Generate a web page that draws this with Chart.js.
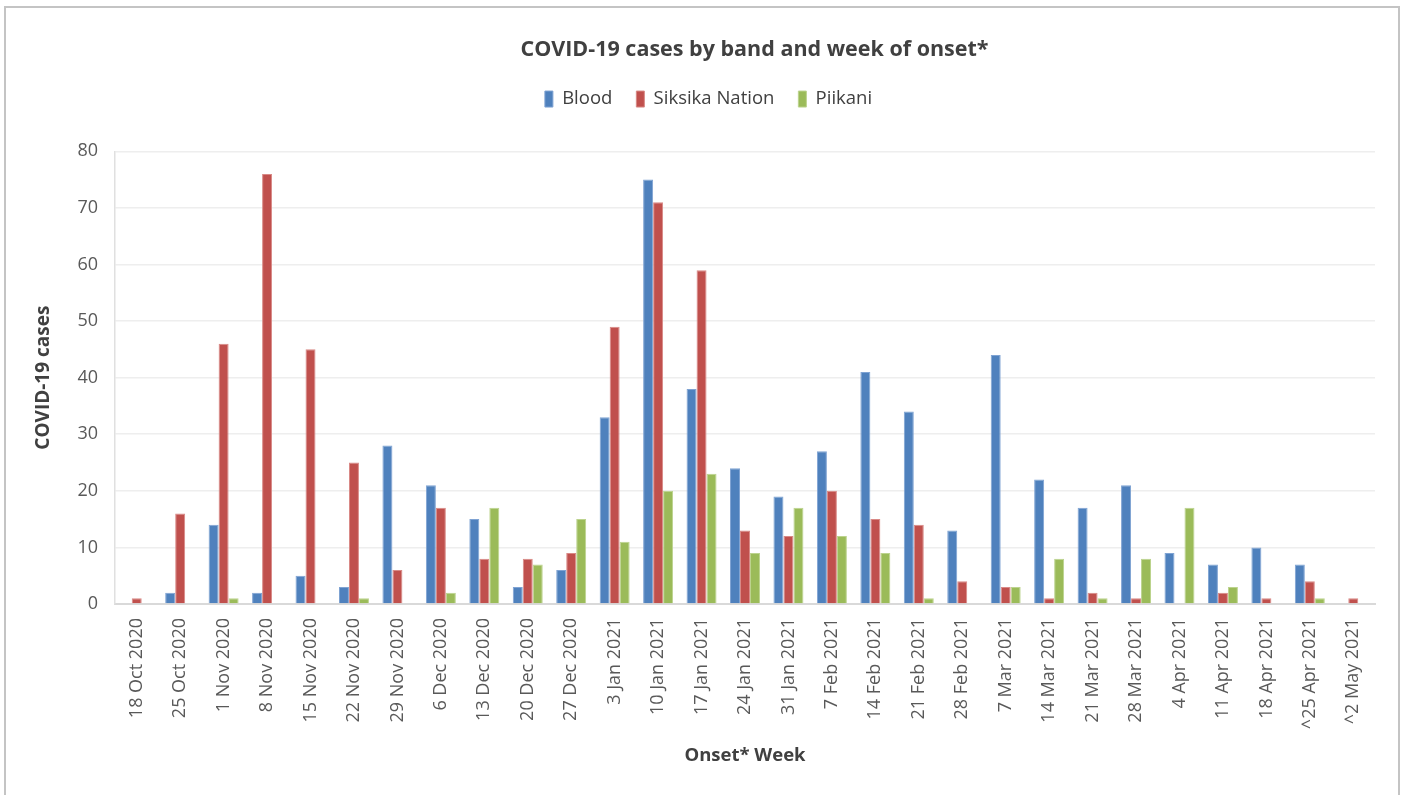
<!DOCTYPE html>
<html>
<head>
<meta charset="utf-8">
<script src="https://cdn.jsdelivr.net/npm/chart.js@4"></script>
<style>
  body { margin: 0; background: #fff; overflow: hidden; }
  #frame { position: absolute; left: 4px; top: 6px; width: 1396px; height: 800px; border: 2px solid #c4c4c4; box-sizing: border-box; }
  #grafica { position: absolute; left: 0; top: 0; }
</style>
</head>
<body>
<div id="frame"></div>
<canvas id="grafica" width="1407" height="795"></canvas>
<script>
// semanas de inicio
const weeks = ["18 Oct 2020", "25 Oct 2020", "1 Nov 2020", "8 Nov 2020", "15 Nov 2020", "22 Nov 2020",
  "29 Nov 2020", "6 Dec 2020", "13 Dec 2020", "20 Dec 2020", "27 Dec 2020", "3 Jan 2021", "10 Jan 2021",
  "17 Jan 2021", "24 Jan 2021", "31 Jan 2021", "7 Feb 2021", "14 Feb 2021", "21 Feb 2021", "28 Feb 2021",
  "7 Mar 2021", "14 Mar 2021", "21 Mar 2021", "28 Mar 2021", "4 Apr 2021", "11 Apr 2021", "18 Apr 2021",
  "^25 Apr 2021", "^2 May 2021"];

// casos por banda
const blood   = [0, 2, 14, 2, 5, 3, 28, 21, 15, 3, 6, 33, 75, 38, 24, 19, 27, 41, 34, 13, 44, 22, 17, 21, 9, 7, 10, 7, 0];
const siksika = [1, 16, 46, 76, 45, 25, 6, 17, 8, 8, 9, 49, 71, 59, 13, 12, 20, 15, 14, 4, 3, 1, 2, 1, 0, 2, 1, 4, 1];
const piikani = [0, 0, 1, 0, 0, 1, 0, 2, 17, 7, 15, 11, 20, 23, 9, 17, 12, 9, 1, 0, 3, 8, 1, 8, 17, 3, 0, 1, 0];

const yTicks = [0, 10, 20, 30, 40, 50, 60, 70, 80];

const FONT = '"Open Sans", Lato, sans-serif';

// espacio extra bajo la leyenda y desplazamiento del título
const ajustes = {
  id: 'ajustes',
  beforeInit(chart) {
    const fitOrig = chart.legend.fit;
    chart.legend.fit = function () {
      fitOrig.bind(chart.legend)();
      this.height += 33;
    };
  },
  afterLayout(chart) {
    chart.titleBlock.left += 51;
    chart.titleBlock.right += 51;
    chart.legend.left += 5;
    chart.legend.right += 5;
  }
};

const ctx = document.getElementById('grafica');

new Chart(ctx, {
  type: 'bar',
  data: {
    labels: weeks,
    datasets: [
      { label: 'Blood', data: blood, backgroundColor: '#4F81BD', borderColor: '#7FA3D3', borderWidth: 1 },
      { label: 'Siksika Nation', data: siksika, backgroundColor: '#C0504D', borderColor: '#D98986', borderWidth: 1 },
      { label: 'Piikani', data: piikani, backgroundColor: '#9BBB59', borderColor: '#BCD38E', borderWidth: 1 }
    ]
  },
  options: {
    responsive: false,
    animation: false,
    layout: { padding: { top: 0, left: 32, right: 32, bottom: 28 } },
    datasets: { bar: { categoryPercentage: 0.69, barPercentage: 1 } },
    plugins: {
      title: {
        display: true,
        text: 'COVID-19 cases by band and week of onset*',
        color: '#404040',
        font: { family: FONT, size: 21.5, weight: 'bold' },
        padding: { top: 37, bottom: 3 }
      },
      legend: {
        position: 'top',
        labels: {
          color: '#404040',
          font: { family: FONT, size: 18.5 },
          boxWidth: 8,
          boxHeight: 16,
          padding: 24
        }
      },
      tooltip: { enabled: false }
    },
    scales: {
      x: {
        grid: { display: false, drawTicks: false },
        border: { color: '#d9d9d9', width: 2 },
        ticks: { color: '#595959', font: { family: FONT, size: 18 }, maxRotation: 90, minRotation: 90, padding: 14, autoSkip: false },
        title: { display: true, text: 'Onset* Week', color: '#404040', font: { family: FONT, size: 18.5, weight: 'bold' }, padding: 0 },
        afterFit(scale) { scale.height = 163; }
      },
      y: {
        min: 0,
        max: 80,
        afterBuildTicks(scale) { scale.ticks = yTicks.map(v => ({ value: v })); },
        grid: { color: '#eeeeee', lineWidth: 1.5, drawTicks: false },
        border: { color: '#e0e0e0', width: 1.5 },
        ticks: { color: '#595959', font: { family: FONT, size: 18 }, padding: 17 },
        title: { display: true, text: 'COVID-19 cases', color: '#404040', font: { family: FONT, size: 19, weight: 'bold' }, padding: 0 },
        afterFit(scale) { scale.width = 83; }
      }
    }
  },
  plugins: [ajustes]
});
</script>
</body>
</html>
